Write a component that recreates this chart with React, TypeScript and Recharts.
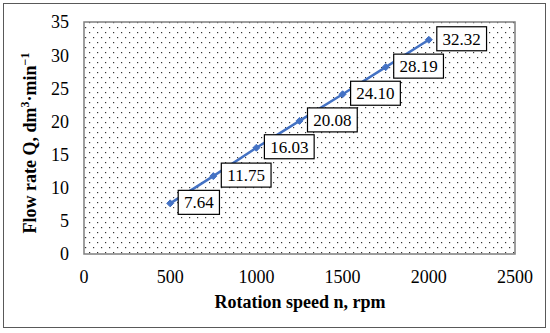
import React from 'react'
import {
    LineChart,
    Line,
    XAxis,
    YAxis,
    CartesianGrid,
    ReferenceArea,
    LabelList,
} from 'recharts'

const speeds = [500, 750, 1000, 1250, 1500, 1750, 2000]
const flowRates = [7.64, 11.75, 16.03, 20.08, 24.1, 28.19, 32.32]
const flowLabels = ['7.64', '11.75', '16.03', '20.08', '24.10', '28.19', '32.32']
const xTicks = [0, 500, 1000, 1500, 2000, 2500]
const yTicks = [0, 5, 10, 15, 20, 25, 30, 35]

const data = speeds.map((n, i) => ({ n, Q: flowRates[i], label: flowLabels[i] }))

const font = '"Liberation Serif", "Times New Roman", serif'
const blue = '#4472C4'

const Diamond = (props: any) => {
    const { cx, cy } = props
    if (cx == null || cy == null) return null
    const r = 3.5
    return (
        <polygon
            points={`${cx},${cy - r} ${cx + r},${cy} ${cx},${cy + r} ${cx - r},${cy}`}
            fill={blue}
            stroke={blue}
        />
    )
}

const BoxLabel = (props: any) => {
    const { x, y, value } = props
    if (x == null || y == null) return null
    const s = String(value)
    const digits = s.replace('.', '').length
    const w = digits * 8.5 + 4.25 + 11.5
    const bx = x + 8
    const by = y - 13
    return (
        <g>
            <rect x={bx} y={by} width={w} height={24} fill="#fff" stroke="#000" strokeWidth={1.2} />
            <text
                x={bx + w / 2}
                y={by + 18}
                textAnchor="middle"
                style={{ fontFamily: font, fontSize: 17 }}
                fill="#000"
            >
                {s}
            </text>
        </g>
    )
}

const tickStyle = { fill: '#000', fontFamily: font, fontSize: 18, style: { fontFamily: font } }

export default function App() {
    return (
        <div style={{ position: 'relative', width: 550, height: 333, background: '#fff', fontFamily: font }}>
            <style>{'body{margin:0} .recharts-text, .recharts-cartesian-axis-tick-value{font-family:"Liberation Serif","Times New Roman",serif}'}</style>
            <svg width={0} height={0} style={{ position: 'absolute' }}>
                <defs>
                    <pattern id="dots" width={8} height={10} patternUnits="userSpaceOnUse">
                        <rect x={1} y={2} width={1.2} height={1.2} fill="#333" />
                        <rect x={5} y={7} width={1.2} height={1.2} fill="#333" />
                    </pattern>
                </defs>
            </svg>
            <div
                style={{
                    position: 'absolute',
                    left: 3,
                    top: 3,
                    width: 541,
                    height: 323,
                    border: '1.5px solid #595959',
                }}
            />
            <div style={{ position: 'absolute', left: 0, top: 0 }}>
                <LineChart
                    width={550}
                    height={333}
                    data={data}
                    margin={{ top: 22, right: 35, bottom: 22, left: 0 }}
                    style={{ fontFamily: font }}
                >
                    <CartesianGrid horizontal={false} vertical={false} fill="url(#dots)" fillOpacity={1} />
                    <XAxis
                        dataKey="n"
                        type="number"
                        domain={[0, 2500]}
                        ticks={xTicks}
                        height={57}
                        axisLine={false}
                        tickLine={false}
                        tickSize={0}
                        tickMargin={16}
                        tick={tickStyle}
                        interval={0}
                    />
                    <YAxis
                        type="number"
                        domain={[0, 35]}
                        ticks={yTicks}
                        width={84}
                        axisLine={false}
                        tickLine={false}
                        tickSize={0}
                        tickMargin={15}
                        tick={tickStyle}
                        interval={0}
                    />
                    <ReferenceArea
                        x1={0}
                        x2={2500}
                        y1={0}
                        y2={35}
                        fill="none"
                        stroke="#7f7f7f"
                        strokeWidth={1.5}
                        ifOverflow="visible"
                    />
                    <Line
                        type="linear"
                        dataKey="Q"
                        stroke={blue}
                        strokeWidth={2.5}
                        dot={<Diamond />}
                        activeDot={false}
                        isAnimationActive={false}
                    >
                        <LabelList dataKey="label" content={<BoxLabel />} />
                    </Line>
                </LineChart>
            </div>
            <svg
                width={550}
                height={333}
                style={{ position: 'absolute', left: 0, top: 0, pointerEvents: 'none' }}
            >
                <text
                    x={300}
                    y={308}
                    textAnchor="middle"
                    style={{ fontFamily: font, fontSize: 18, fontWeight: 'bold' }}
                    fill="#000"
                >
                    Rotation speed n, rpm
                </text>
                <text
                    x={36}
                    y={143}
                    transform="rotate(-90 36 143)"
                    textAnchor="middle"
                    style={{ fontFamily: font, fontSize: 18, fontWeight: 'bold' }}
                    fill="#000"
                >
                    Flow rate Q, dm
                    <tspan fontSize={12} dy={-7}>3</tspan>
                    <tspan dy={7}>·min</tspan>
                    <tspan fontSize={12} dy={-7}>−1</tspan>
                </text>
            </svg>
        </div>
    )
}
